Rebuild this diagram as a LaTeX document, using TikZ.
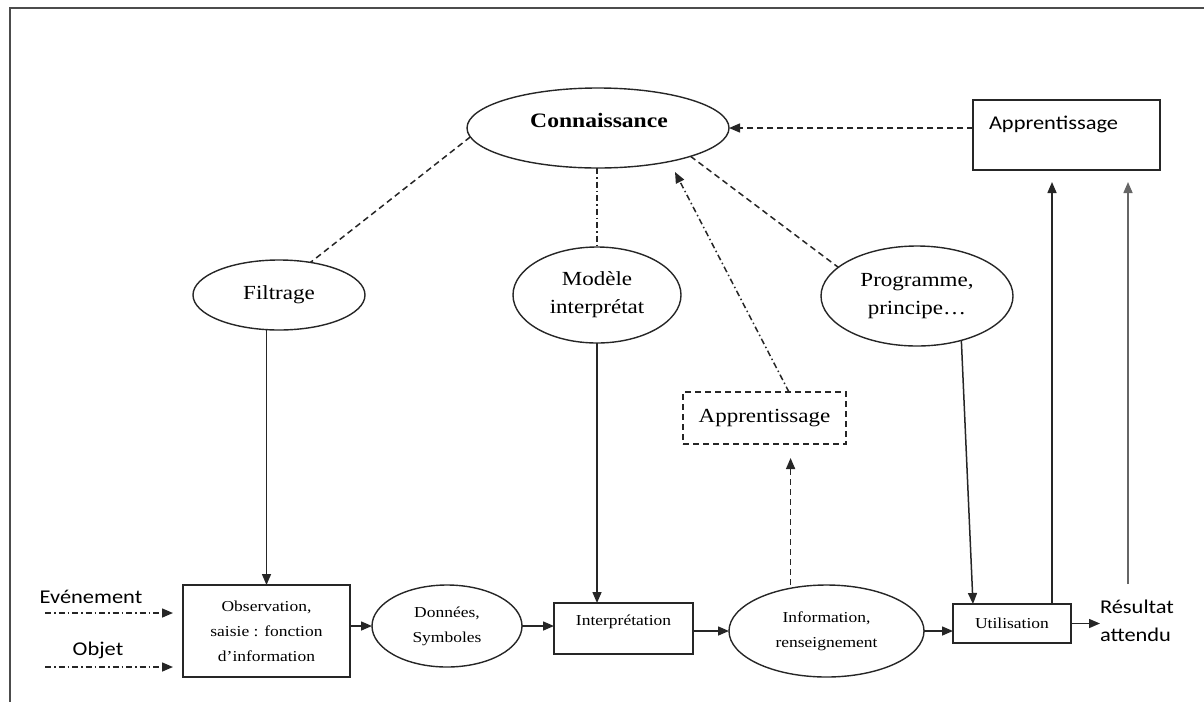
\documentclass[tikz,border=0pt]{standalone}
\usepackage{fontspec}
\setmainfont{Liberation Serif}[FakeStretch=1.15]
\newfontfamily\calib{Carlito}[FakeStretch=1.15]
\usetikzlibrary{shapes.geometric,arrows.meta,calc}

\begin{document}
\begin{tikzpicture}[x=1pt,y=-1pt,
  every node/.style={inner sep=0pt, outer sep=0pt},
  outline/.style={draw=black!85, line width=1.4pt},
  oval/.style={outline, ellipse},
  box/.style={outline, rectangle},
  small/.style={font=\fontsize{15.2}{25}\selectfont, align=center},
  large/.style={font=\fontsize{20}{28}\selectfont, align=center},
  sans/.style={font=\calib\fontsize{19.5}{28}\selectfont, align=center},
  link/.style={line width=1.5pt, draw=black!85},
  arr/.style={link, -{Triangle[length=11pt,width=9pt]}},
  dashedlink/.style={dash pattern=on 6pt off 4pt},
  dashdot/.style={dash pattern=on 6pt off 3pt on 1.5pt off 3pt},
  frame/.style={draw=black!70, line width=1.5pt},
]
\useasboundingbox (0,0) rectangle (1204,702);
\draw[frame] (1204,8) -- (10,8) -- (10,702);

% upper level
\node[oval, minimum width=262, minimum height=80] (conn) at (598,128) {};
\node[font=\bfseries\fontsize{20.5}{24}\selectfont] (conn-t) at (599,120) {Connaissance};
\node[box, minimum width=187, minimum height=70] (app1) at (1066.5,135) {};
\node[sans, anchor=west] (app1-t) at (989,124) {Apprentissage};

% middle level
\node[oval, large, minimum width=172, minimum height=70] (filt) at (279,295) {Filtrage};
\node[oval, large, minimum width=168, minimum height=96] (mod) at (597,295) {Modèle\\interprétat};
\node[oval, large, minimum width=192, minimum height=100] (prog) at (917,296) {Programme,\\principe…};
\node[box, dashedlink, large, minimum width=163, minimum height=52] (app2) at (764.5,418) {Apprentissage};

% processing chain
\node[box, small, minimum width=167, minimum height=92] (obs) at (266.5,631) {Observation,\\saisie : fonction\\d’information};
\node[oval, small, minimum width=150, minimum height=82] (don) at (447,626) {Données,\\Symboles};
\node[box, minimum width=139, minimum height=51] (interp) at (623.5,628.5) {};
\node[small] (interp-t) at (623.5,622) {Interprétation};
\node[oval, small, minimum width=195, minimum height=92] (info) at (826.5,631) {Information,\\renseignement};
\node[box, small, minimum width=118, minimum height=39] (util) at (1012,623.5) {Utilisation};
\node[sans, align=left, anchor=west] (res) at (1100,621) {Résultat\\attendu};
\node[sans] (ev) at (91,597) {Evénement};
\node[sans] (obj) at (98,650) {Objet};

% free ends
\coordinate (ev-a) at (45,613);
\coordinate (ev-b) at (173,613);
\coordinate (obj-a) at (45,667);
\coordinate (obj-b) at (173,667);
\coordinate (kn-tip) at (675,172);
\coordinate (app2-out) at ($(app2.north west)!0.65!(app2.north east)$);
\coordinate (app2-in) at ($(app2.south west)!0.66!(app2.south east)+(0,14)$);
\coordinate (learn-a) at ($(app1.south west)+(79,12)$);
\coordinate (learn-b) at (1128,182);
\coordinate (res-top) at (1128,584);

% links to knowledge
\draw[link, dashedlink] (conn.184) -- (filt.46);
\draw[link, dashdot] (mod.north |- conn.south) -- (mod.north);
\draw[link, dashedlink] (conn.-17) -- (prog.160);
\draw[arr, dashedlink] (app1.west |- conn.east) -- (conn.east);
\draw[arr, dashdot] (app2-out) -- (kn-tip);
\draw[arr, dashedlink] (app2-in |- info.north) -- (app2-in);

% vertical inputs
\draw[arr] (obs.north |- filt.south) -- (obs.north);
\draw[arr] (mod.south) -- (mod.south |- interp.north);
\draw[arr] (prog.-45) -- ($(util.north west)+(20,0)$);
\draw[arr] ($(util.north west)+(99,0)$) -- (learn-a);
\draw[arr, draw=black!60] (res-top) -- (learn-b);

% chain
\draw[arr, dashdot] (ev-a) -- (ev-b);
\draw[arr, dashdot] (obj-a) -- (obj-b);
\draw[arr] (obs.east |- don.west) -- (don.west);
\draw[arr] (don.east) -- (don.east -| interp.west);
\draw[arr] (interp.east |- info.west) -- (info.west);
\draw[arr] (info.east) -- (info.east -| util.west);
\draw[arr] (util.east) -- (util.east -| res.west);
\end{tikzpicture}
\end{document}
